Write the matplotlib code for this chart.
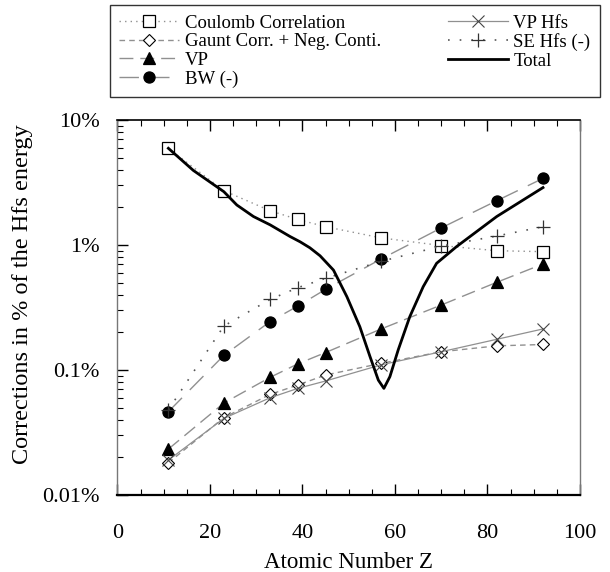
#!/usr/bin/env python3
import numpy as np
import matplotlib
matplotlib.use('Agg')
import matplotlib.pyplot as plt
from matplotlib.ticker import MultipleLocator, LogLocator, FuncFormatter

# atomic numbers of the calculated points
Z = [11, 23, 33, 39, 45, 57, 70, 82, 92]

# corrections in % of the Hfs energy
coulomb = [5.94, 2.72, 1.88, 1.60, 1.40, 1.14, 0.99, 0.90, 0.885]
gaunt = [0.0181, 0.0416, 0.0638, 0.0759, 0.0912, 0.113, 0.140, 0.156, 0.160]
vp = [0.0233, 0.0544, 0.0874, 0.112, 0.138, 0.213, 0.331, 0.503, 0.705]
bw = [0.0464, 0.131, 0.244, 0.325, 0.442, 0.773, 1.37, 2.26, 3.41]
vp_hfs = [0.019, 0.041, 0.060, 0.0713, 0.0817, 0.110, 0.140, 0.176, 0.213]
se_hfs = [0.048, 0.225, 0.367, 0.456, 0.541, 0.74, 0.98, 1.18, 1.40]

# total curve, sampled along the drawn line
Z_total = [11, 16.4, 23, 25.8, 29.4, 33, 37.3, 39.5, 41.6, 43.8, 46.7, 49.6,
           52.4, 54.6, 56.4, 57.6, 58.9, 60.7, 63.2, 66.1, 69.0, 73.3, 82, 92]
total = [5.94, 3.95, 2.67, 2.09, 1.69, 1.45, 1.17, 1.06, 0.95, 0.82, 0.63, 0.386,
         0.222, 0.128, 0.083, 0.0713, 0.0885, 0.145, 0.267, 0.464, 0.714, 0.97,
         1.69, 2.88]

plt.rcParams['font.family'] = ['Liberation Serif', 'DejaVu Serif']

fig = plt.figure(figsize=(6.1, 5.72), dpi=100)
ax = fig.add_axes([0.1926, 0.1346, 0.7582, 0.6556])

line_c = '#909090'
mk = dict(markeredgecolor='black', markersize=8, markeredgewidth=0.9)

h1, = ax.plot(Z, coulomb, linestyle=(0, (1, 3)), color=line_c, lw=1.0,
              marker='s', markerfacecolor='white', label='Coulomb Correlation', **mk)
h2, = ax.plot(Z, gaunt, linestyle=(0, (4, 3)), color=line_c, lw=1.0,
              marker='D', markerfacecolor='white', label='Gaunt Corr. + Neg. Conti.',
              markeredgecolor='black', markersize=6.5, markeredgewidth=0.8)
h3, = ax.plot(Z, vp, linestyle=(0, (10, 5)), color=line_c, lw=1.0,
              marker='^', markerfacecolor='black', label='VP', **mk)
h4, = ax.plot(Z, bw, linestyle=(0, (14, 8)), color=line_c, lw=1.0,
              marker='o', markerfacecolor='black', label='BW (-)', **mk)
h5, = ax.plot(Z, vp_hfs, linestyle='-', color=line_c, lw=0.9,
              marker='x', label='VP Hfs', markeredgecolor='#444444',
              markersize=9, markeredgewidth=0.8)
h6, = ax.plot(Z, se_hfs, linestyle=(0, (1, 6)), color='#555555', lw=1.2,
              marker='+', label='SE Hfs (-)', markeredgecolor='#333333',
              markersize=10, markeredgewidth=0.9)
h7, = ax.plot(Z_total, total, linestyle='-', color='black', lw=2.0, label='Total')

ax.set_yscale('log')
ax.set_xlim(0, 100)
ax.set_ylim(0.01, 10)

ax.xaxis.set_major_locator(MultipleLocator(20))
ax.xaxis.set_minor_locator(MultipleLocator(5))
ax.yaxis.set_major_locator(LogLocator(base=10, numticks=10))
ax.yaxis.set_minor_locator(LogLocator(base=10, subs=np.arange(2, 10), numticks=20))


def pct(v, pos):
    if v >= 1:
        return f'{v:.0f}%'
    return f'{v:g}%'


ax.yaxis.set_major_formatter(FuncFormatter(pct))
ax.tick_params(axis='both', which='both', direction='in', labelsize=16)
ax.tick_params(axis='x', which='both', top=True, bottom=True, pad=21)
ax.tick_params(axis='y', which='both', left=True, right=False, pad=13)
ax.tick_params(which='major', length=8, width=1.0)
ax.tick_params(which='minor', length=4, width=0.8)

for s in ['left', 'right']:
    ax.spines[s].set_color('#777777')
    ax.spines[s].set_linewidth(1.0)
ax.spines['bottom'].set_linewidth(1.6)
ax.spines['top'].set_linewidth(1.2)

ax.set_xlabel('Atomic Number Z', fontsize=16.5, labelpad=6)
ax.set_ylabel('Corrections in % of the Hfs energy', fontsize=17.5)
ax.yaxis.set_label_coords(-0.183, 0.536)

handles = [h1, h2, h3, h4, h5, h6, h7]
leg = fig.legend(handles=handles, labels=[h.get_label() for h in handles],
                 loc='upper left', bbox_to_anchor=(0.180, 0.991, 0.803, 0.0),
                 mode='expand', ncol=2, fontsize=13.5, frameon=True, fancybox=False,
                 edgecolor='black', borderaxespad=0, handlelength=3.2,
                 handletextpad=0.3, labelspacing=0.08, borderpad=0.5,
                 columnspacing=1.0)
leg.get_frame().set_linewidth(1.0)

plt.savefig('out.png', dpi=100)
